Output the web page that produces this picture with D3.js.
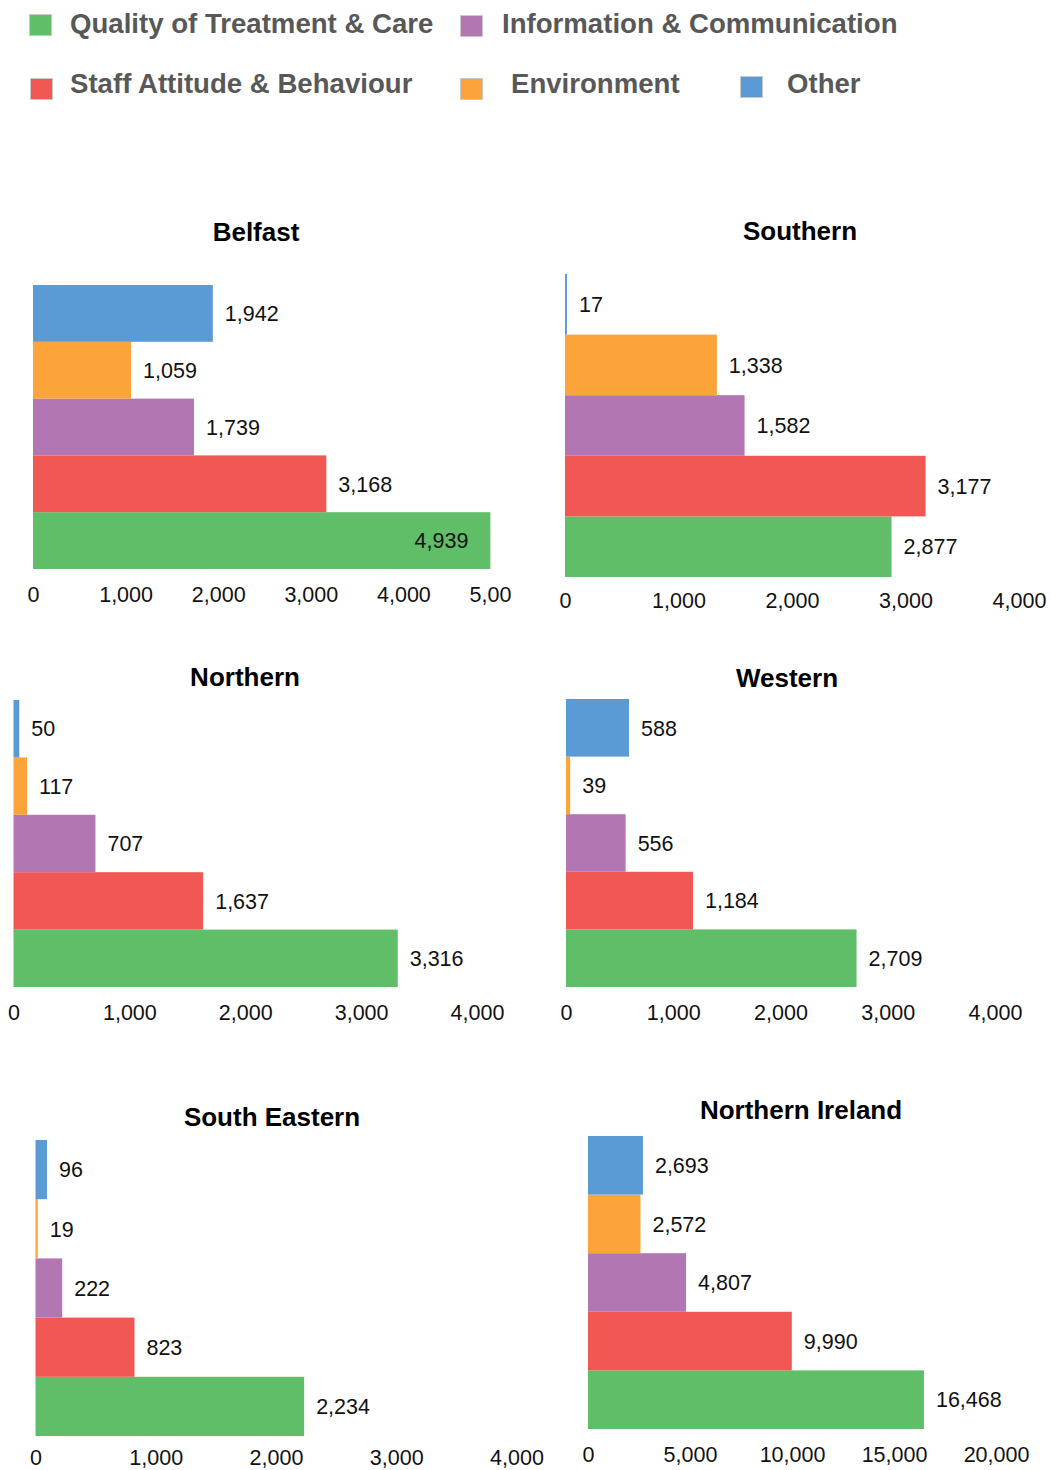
<!DOCTYPE html>
<html>
<head>
<meta charset="utf-8">
<script src="https://cdn.jsdelivr.net/npm/d3@7"></script>
<style>
  body { margin: 0; background: #fff; }
  svg { display: block; font-family: "Liberation Sans", Arial, Helvetica, sans-serif; }
</style>
</head>
<body>
<svg id="chart" width="1050" height="1470"></svg>
<script>
// Complaint categories (bottom bar first) and their colours
const categories = [
  "Quality of Treatment & Care",
  "Staff Attitude & Behaviour",
  "Information & Communication",
  "Environment",
  "Other"
];
const colors = ["#60BD68", "#F15854", "#B276B2", "#FAA43A", "#5A9BD5"];

// Trust areas
const regions = ["Belfast", "Southern", "Northern", "Western", "South Eastern", "Northern Ireland"];

// Complaints per category, same order as `categories`
const belfastValues         = [4939, 3168, 1739, 1059, 1942];
const southernValues        = [2877, 3177, 1582, 1338, 17];
const northernValues        = [3316, 1637, 707, 117, 50];
const westernValues         = [2709, 1184, 556, 39, 588];
const southEasternValues    = [2234, 823, 222, 19, 96];
const northernIrelandValues = [16468, 9990, 4807, 2572, 2693];

// Axis tick labels
const ticksBelfast = [0, 1000, 2000, 3000, 4000, 5000];
const ticksTrust   = [0, 1000, 2000, 3000, 4000];
const ticksNI      = [0, 5000, 10000, 15000, 20000];

const seriesByRegion = [belfastValues, southernValues, northernValues, westernValues, southEasternValues, northernIrelandValues];
const ticksByRegion  = [ticksBelfast, ticksTrust, ticksTrust, ticksTrust, ticksTrust, ticksNI];

// Panel geometry: zero line x, full-scale x, bar band top/bottom, title and tick baselines
const panels = [
  { x0: 33,   x1: 496,   top: 285,  bottom: 569,  titleX: 256, titleY: 241,  tickY: 602,  clipRight: 511 },
  { x0: 565,  x1: 1019,  top: 274,  bottom: 577,  titleX: 800, titleY: 240,  tickY: 608,  clipRight: 1050 },
  { x0: 13.5, x1: 477,   top: 700,  bottom: 987,  titleX: 245, titleY: 686,  tickY: 1020, clipRight: 525 },
  { x0: 566,  x1: 995,   top: 699,  bottom: 987,  titleX: 787, titleY: 687,  tickY: 1020, clipRight: 1050 },
  { x0: 35.5, x1: 516.5, top: 1140, bottom: 1436, titleX: 272, titleY: 1126, tickY: 1465, clipRight: 560 },
  { x0: 588,  x1: 996,   top: 1136, bottom: 1429, titleX: 801, titleY: 1119, tickY: 1462, clipRight: 1050 }
];

const svg = d3.select("#chart");
const fmt = d3.format(",");
const labelSize = 21.5;

// ---- Legend ----
const legendItems = [
  { cat: 0, sx: 29,  sy: 14, tx: 70,  ty: 32.5 },
  { cat: 2, sx: 460, sy: 15, tx: 502, ty: 32.5 },
  { cat: 1, sx: 30,  sy: 78, tx: 70,  ty: 93 },
  { cat: 3, sx: 460, sy: 78, tx: 511, ty: 93 },
  { cat: 4, sx: 740, sy: 76, tx: 787, ty: 93 }
];
const legend = svg.append("g").attr("class", "legend");
legend.selectAll("rect")
  .data(legendItems)
  .join("rect")
  .attr("x", d => d.sx + 0.5)
  .attr("y", d => d.sy + 0.5)
  .attr("width", 22)
  .attr("height", 21)
  .attr("fill", d => colors[d.cat])
  .attr("stroke", "#c9c9c9")
  .attr("stroke-width", 1);
legend.selectAll("text")
  .data(legendItems)
  .join("text")
  .attr("x", d => d.tx)
  .attr("y", d => d.ty)
  .attr("font-size", 27.6)
  .attr("font-weight", "bold")
  .attr("fill", "#585858")
  .text(d => categories[d.cat]);

// ---- Panels ----
const defs = svg.append("defs");

regions.forEach((region, i) => {
  const p = panels[i];
  const values = seriesByRegion[i];
  const ticks = ticksByRegion[i];

  defs.append("clipPath").attr("id", "clip" + i)
    .append("rect")
    .attr("x", 0).attr("y", p.top - 80)
    .attr("width", p.clipRight).attr("height", 1470);

  const g = svg.append("g").attr("clip-path", `url(#clip${i})`);

  const x = d3.scaleLinear()
    .domain([0, ticks[ticks.length - 1]])
    .range([p.x0, p.x1]);

  const y = d3.scaleBand()
    .domain(categories.slice().reverse())
    .range([p.top, p.bottom])
    .padding(0);

  const rows = categories.map((c, k) => ({ cat: c, value: values[k], color: colors[k] }));

  // title
  g.append("text")
    .attr("x", p.titleX)
    .attr("y", p.titleY)
    .attr("text-anchor", "middle")
    .attr("font-size", 26)
    .attr("font-weight", "bold")
    .attr("fill", "#000")
    .text(region);

  // bars
  g.selectAll("rect.bar")
    .data(rows)
    .join("rect")
    .attr("class", "bar")
    .attr("x", x(0))
    .attr("y", d => y(d.cat))
    .attr("width", d => x(d.value) - x(0))
    .attr("height", y.bandwidth())
    .attr("fill", d => d.color);

  // value labels: outside the bar end, or inside when the panel edge is too close
  g.selectAll("text.value")
    .data(rows)
    .join("text")
    .attr("class", "value")
    .attr("font-size", labelSize)
    .attr("fill", "#111")
    .attr("y", d => y(d.cat) + y.bandwidth() / 2 + labelSize * 0.36)
    .text(d => fmt(d.value))
    .each(function (d) {
      const w = this.getComputedTextLength();
      const end = x(d.value);
      if (end + 12 + w > p.clipRight) {
        d3.select(this).attr("x", end - 22).attr("text-anchor", "end");
      } else {
        d3.select(this).attr("x", end + 12).attr("text-anchor", "start");
      }
    });

  // x axis
  const axis = d3.axisBottom(x)
    .tickValues(ticks)
    .tickSize(0)
    .tickFormat(fmt);
  const ax = g.append("g")
    .attr("transform", `translate(0,${p.tickY})`)
    .call(axis);
  ax.select(".domain").remove();
  ax.selectAll("text")
    .attr("y", 0)
    .attr("dy", null)
    .attr("font-size", labelSize)
    .attr("font-family", "\"Liberation Sans\", Arial, sans-serif")
    .attr("fill", "#111");
});
</script>
</body>
</html>
